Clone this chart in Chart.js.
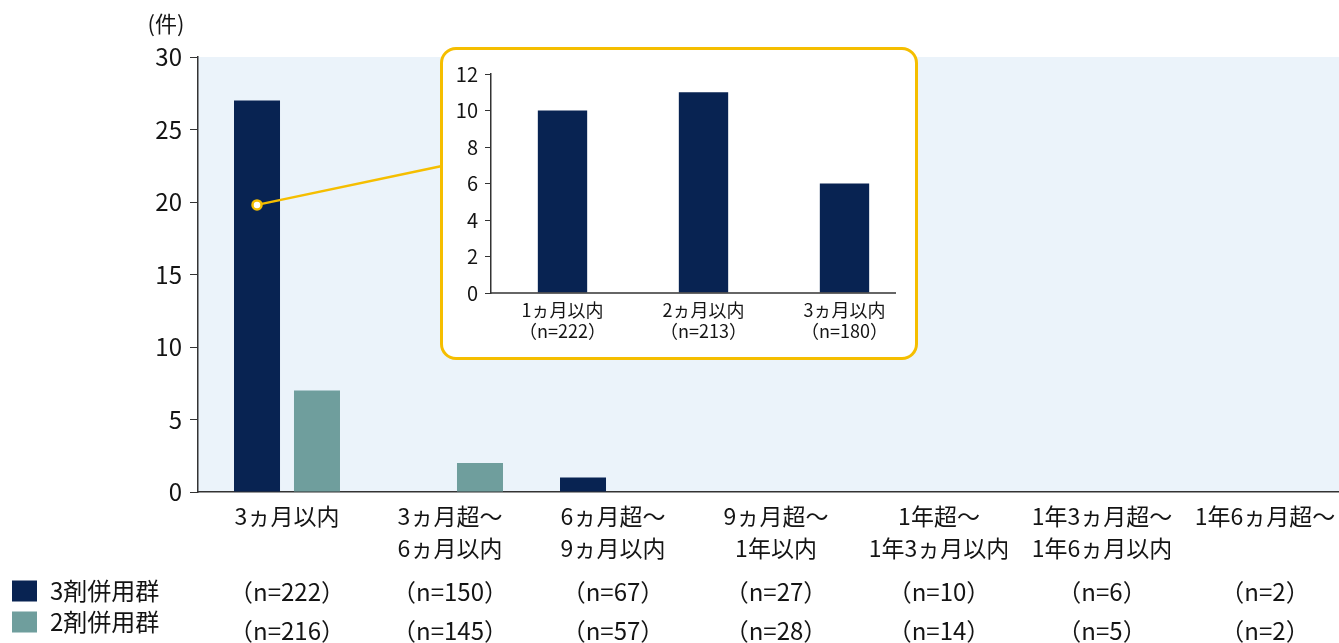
<!DOCTYPE html>
<html lang="ja">
<head>
<meta charset="utf-8">
<title>併用期間別の件数</title>
<script src="https://cdn.jsdelivr.net/npm/chart.js@4/dist/chart.umd.min.js"></script>
<style>
    html, body {
        margin: 0;
        padding: 0;
        width: 1339px;
        height: 643px;
        overflow: hidden;
        background: #ffffff;
    }
    #main {
        position: absolute;
        left: 0;
        top: 0;
    }
    #inset {
        position: absolute;
        left: 440px;
        top: 47px;
        width: 478px;
        height: 313px;
        box-sizing: border-box;
        border: 3px solid #f5be00;
        border-radius: 16px;
        background: #ffffff;
    }
    #insetChart {
        position: absolute;
        left: 0;
        top: 0;
    }
</style>
</head>
<body>
<canvas id="main" width="1350" height="643"></canvas>
<div id="inset">
    <canvas id="insetChart" width="472" height="307"></canvas>
</div>

<script>
// 期間区分（x軸ラベル）
const periods = [
    ['3ヵ月以内'],
    ['3ヵ月超〜', '6ヵ月以内'],
    ['6ヵ月超〜', '9ヵ月以内'],
    ['9ヵ月超〜', '1年以内'],
    ['1年超〜', '1年3ヵ月以内'],
    ['1年3ヵ月超〜', '1年6ヵ月以内'],
    ['1年6ヵ月超〜']
];

// 件数
const triple = [27, 0, 1, 0, 0, 0, 0];
const double = [7, 2, 0, 0, 0, 0, 0];

// 各区分の症例数
const tripleN = [222, 150, 67, 27, 10, 6, 2];
const doubleN = [216, 145, 57, 28, 14, 5, 2];

// 3ヵ月以内の内訳
const earlyPeriods = ['1ヵ月以内', '2ヵ月以内', '3ヵ月以内'];
const earlyN = [222, 213, 180];
const earlyCounts = [10, 11, 6];

const seriesNames = ['3剤併用群', '2剤併用群'];

const colors = {
    navy: '#082352',
    teal: '#6f9e9d',
    panel: '#ebf3fa',
    axis: '#333333',
    text: '#141414',
    accent: '#f5be00'
};

const fontFamily = '"Noto Sans CJK JP", "Noto Sans", sans-serif';

// category slots start a little right of the y axis
const slotFit = {
    id: 'slotFit',
    afterLayout(chart, args, opts) {
        const x = chart.scales.x;
        x._startPixel = x.left + opts.inset;
        x._endPixel = x.right + opts.extra;
        x._length = x._endPixel - x._startPixel;
    }
};

// light blue plot panel
const panel = {
    id: 'panel',
    beforeDraw(chart) {
        const { ctx, chartArea: a } = chart;
        ctx.save();
        ctx.fillStyle = colors.panel;
        ctx.fillRect(a.left, a.top, a.right - a.left, a.bottom - a.top);
        ctx.restore();
    }
};

// leader line from the first bar to the breakdown box
const leader = {
    id: 'leader',
    afterDatasetsDraw(chart) {
        const { ctx } = chart;
        const bar = chart.getDatasetMeta(0).data[0];
        const x0 = bar.x;
        const y0 = chart.scales.y.getPixelForValue(19.8);
        const box = document.getElementById('inset');
        const x1 = box.offsetLeft + 2;
        const y1 = box.offsetTop + 119;

        ctx.save();
        ctx.strokeStyle = colors.accent;
        ctx.lineWidth = 2.5;
        ctx.beginPath();
        ctx.moveTo(x0, y0);
        ctx.lineTo(x1, y1);
        ctx.stroke();

        ctx.beginPath();
        ctx.arc(x0, y0, 4.5, 0, Math.PI * 2);
        ctx.fillStyle = '#ffffff';
        ctx.fill();
        ctx.stroke();
        ctx.restore();
    }
};

// unit label, n rows under the axis and the series key
const annotations = {
    id: 'annotations',
    afterDraw(chart) {
        const { ctx } = chart;
        const x = chart.scales.x;

        ctx.save();
        ctx.fillStyle = colors.text;
        ctx.textBaseline = 'middle';

        ctx.font = `22px ${fontFamily}`;
        ctx.textAlign = 'center';
        ctx.fillText('(件)', 166, 24);

        ctx.font = `24px ${fontFamily}`;
        const rows = [tripleN, doubleN];
        const rowY = [592, 631];
        rows.forEach((row, r) => {
            row.forEach((n, i) => {
                ctx.fillText(`（n=${n}）`, x.getPixelForValue(i), rowY[r]);
            });
        });

        const keyY = [591, 622];
        ctx.textAlign = 'left';
        chart.data.datasets.forEach((ds, i) => {
            ctx.fillStyle = ds.backgroundColor;
            ctx.fillRect(12, keyY[i] - 10.5, 25, 21);
            ctx.fillStyle = colors.text;
            ctx.fillText(ds.label, 50, keyY[i]);
        });
        ctx.restore();
    }
};

new Chart(document.getElementById('main'), {
    type: 'bar',
    data: {
        labels: periods,
        datasets: [
            {
                label: seriesNames[0],
                data: triple,
                backgroundColor: colors.navy
            },
            {
                label: seriesNames[1],
                data: double,
                backgroundColor: colors.teal
            }
        ]
    },
    options: {
        responsive: false,
        animation: false,
        devicePixelRatio: 1,
        categoryPercentage: 0.736,
        barPercentage: 0.767,
        layout: {
            padding: { top: 57, right: 3.5, bottom: 0, left: 0 }
        },
        plugins: {
            legend: { display: false },
            tooltip: { enabled: false },
            slotFit: { inset: 7.5, extra: 0 }
        },
        scales: {
            x: {
                grid: { display: false, drawTicks: false },
                border: { color: colors.axis, width: 1.5 },
                ticks: {
                    color: colors.text,
                    padding: 8,
                    maxRotation: 0,
                    autoSkip: false,
                    font: { family: fontFamily, size: 23, lineHeight: '32px' }
                },
                afterFit(scale) {
                    scale.height = 151;
                    scale.paddingLeft = 0;
                    scale.paddingRight = 0;
                }
            },
            y: {
                min: 0,
                max: 30,
                grid: {
                    drawOnChartArea: false,
                    tickLength: 8,
                    color: colors.axis
                },
                border: { color: colors.axis, width: 1.5 },
                ticks: {
                    stepSize: 5,
                    color: colors.text,
                    padding: 8,
                    font: { family: fontFamily, size: 24 }
                },
                afterFit(scale) {
                    scale.width = 198;
                    scale.paddingTop = 0;
                    scale.paddingBottom = 0;
                }
            }
        }
    },
    plugins: [slotFit, panel, leader, annotations]
});

// the x baseline stops short of the last slot in the breakdown
const shortBase = {
    id: 'shortBase',
    afterDraw(chart) {
        const { ctx, chartArea: a } = chart;
        ctx.save();
        ctx.strokeStyle = colors.axis;
        ctx.lineWidth = 1.5;
        ctx.beginPath();
        ctx.moveTo(a.left, a.bottom);
        ctx.lineTo(a.right, a.bottom);
        ctx.stroke();
        ctx.restore();
    }
};

new Chart(document.getElementById('insetChart'), {
    type: 'bar',
    data: {
        labels: earlyPeriods.map((p, i) => [p, `（n=${earlyN[i]}）`]),
        datasets: [{
            label: seriesNames[0],
            data: earlyCounts,
            backgroundColor: colors.navy
        }]
    },
    options: {
        responsive: false,
        animation: false,
        devicePixelRatio: 1,
        categoryPercentage: 0.35,
        barPercentage: 1,
        layout: {
            padding: { top: 24, right: 19, bottom: 0, left: 0 }
        },
        plugins: {
            legend: { display: false },
            tooltip: { enabled: false },
            slotFit: { inset: 1, extra: 19 }
        },
        scales: {
            x: {
                grid: { display: false, drawTicks: false },
                border: { display: false },
                ticks: {
                    color: colors.text,
                    padding: 7,
                    maxRotation: 0,
                    autoSkip: false,
                    font: { family: fontFamily, size: 18, lineHeight: '20.5px' }
                },
                afterFit(scale) {
                    scale.height = 64;
                    scale.paddingLeft = 0;
                    scale.paddingRight = 0;
                }
            },
            y: {
                min: 0,
                max: 12,
                grid: {
                    drawOnChartArea: false,
                    tickLength: 6,
                    color: colors.axis
                },
                border: { color: colors.axis, width: 1.5 },
                ticks: {
                    stepSize: 2,
                    color: colors.text,
                    padding: 7,
                    font: { family: fontFamily, size: 20 }
                },
                afterFit(scale) {
                    scale.width = 48;
                    scale.paddingTop = 0;
                    scale.paddingBottom = 0;
                }
            }
        }
    },
    plugins: [slotFit, shortBase]
});
</script>
</body>
</html>
